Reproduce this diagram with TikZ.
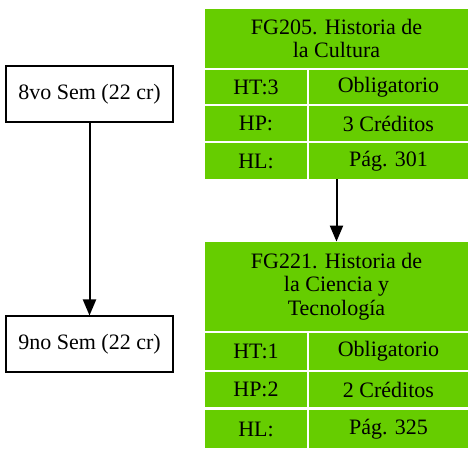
\documentclass[tikz,border=0pt]{standalone}
\usepackage{fontspec}
\setmainfont{Liberation Serif}
\usetikzlibrary{arrows.meta,fit}
\definecolor{gcell}{HTML}{66CD00}
\tikzset{
  semnode/.style={draw=black, line width=2pt, minimum width=167pt, minimum height=56pt, inner sep=0pt, font=\fontsize{22}{23.3}\selectfont},
  cell/.style={fill=gcell, draw=none, inner sep=0pt, align=center, font=\fontsize{22}{23.3}\selectfont},
  arr/.style={line width=2pt, -{Triangle[length=16pt,width=13pt]}},
}
\begin{document}
\begin{tikzpicture}[x=1pt,y=-1pt]
\useasboundingbox (0,0) rectangle (475,457);
\node[semnode] (s8) at (89.5,94) {8vo Sem (22 cr)};
\node[semnode] (s9) at (89.5,344.5) {9no Sem (22 cr)};
\draw[arr] (s8.south) -- (s9.north);
% table 1
\node[cell, minimum width=263pt, minimum height=59pt] (ah) at (336.5,38.5) {FG205. Historia de\\la Cultura};
\node[cell, minimum width=102pt, minimum height=34pt] (a1l) at (256,87) {HT:3};
\node[cell, minimum width=159pt, minimum height=34pt] (a1r) at (388.5,87) {Obligatorio};
\node[cell, minimum width=102pt, minimum height=35pt] (a2l) at (256,123.5) {HP:};
\node[cell, minimum width=159pt, minimum height=35pt] (a2r) at (388.5,123.5) {3 Créditos};
\node[cell, minimum width=102pt, minimum height=36pt] (a3l) at (256,161) {HL:};
\node[cell, minimum width=159pt, minimum height=36pt] (a3r) at (388.5,161) {Pág. 301};
\node[fit=(ah)(a3l)(a3r), inner sep=0pt] (ta) {};
% table 2
\node[cell, minimum width=263pt, minimum height=89pt] (bh) at (336.5,286.5) {FG221. Historia de\\la Ciencia y\\Tecnología};
\node[cell, minimum width=102pt, minimum height=37pt] (b1l) at (256,351.5) {HT:1};
\node[cell, minimum width=159pt, minimum height=37pt] (b1r) at (388.5,351.5) {Obligatorio};
\node[cell, minimum width=102pt, minimum height=35pt] (b2l) at (256,389.5) {HP:2};
\node[cell, minimum width=159pt, minimum height=35pt] (b2r) at (388.5,389.5) {2 Créditos};
\node[cell, minimum width=102pt, minimum height=38pt] (b3l) at (256,429) {HL:};
\node[cell, minimum width=159pt, minimum height=38pt] (b3r) at (388.5,429) {Pág. 325};
\node[fit=(bh)(b3l)(b3r), inner sep=0pt] (tb) {};
\draw[arr] (ta.south) -- (tb.north);
\end{tikzpicture}
\end{document}
